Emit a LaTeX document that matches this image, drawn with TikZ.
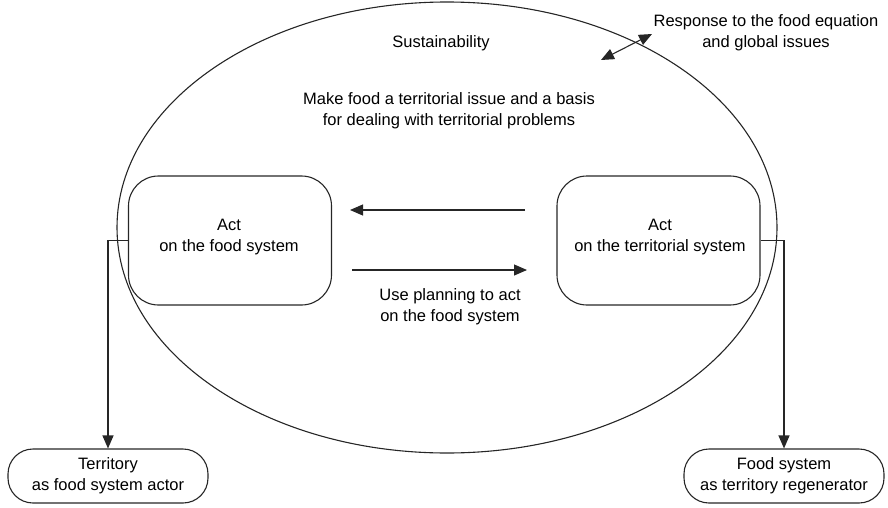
\documentclass[tikz,border=0pt]{standalone}
\usepackage{fontspec}
\setmainfont{Liberation Sans}
\usetikzlibrary{shapes.geometric,arrows.meta}
\begin{document}
\begin{tikzpicture}[x=1pt,y=-1pt,
  every node/.style={font=\fontsize{16.5}{21}\selectfont, align=center},
  ln/.style={line width=1.1pt, draw=black!85},
  arr/.style={ln, -{Triangle[length=13pt,width=11pt]}},
  darr/.style={ln, {Triangle[length=13pt,width=11pt]}-{Triangle[length=13pt,width=11pt]}},
  bigbox/.style={ln, rounded corners=30pt, minimum width=203pt, minimum height=129pt, inner sep=0pt},
  smallbox/.style={ln, rounded corners=25pt, minimum width=200pt, minimum height=54pt, inner sep=0pt},
  txt/.style={inner sep=0pt}
]
\useasboundingbox (0,0) rectangle (888,508);
\node[ln, ellipse, minimum width=660pt, minimum height=451pt, inner sep=0pt] (sus) at (447,227.5) {};
\node[txt] (sustxt) at (441,43) {Sustainability};
\node[txt] (make) at (449,111) {Make food a territorial issue and a basis\\for dealing with territorial problems};
\node[txt] (resp) at (766,33) {Response to the food equation\\and global issues};
\node[txt] (plan) at (450,307) {Use planning to act\\on the food system};

\node[bigbox] (lbox) at (230,240.5) {};
\node[txt] (ltxt) at (229,237) {Act\\on the food system};
\node[bigbox] (rbox) at (658.5,240.5) {};
\node[txt] (rtxt) at (660,237) {Act\\on the territorial system};

\node[smallbox] (terr) at (108,476) {Territory\\as food system actor};
\node[smallbox] (food) at (784,476) {Food system\\as territory regenerator};

\coordinate (a1) at (525,210);
\coordinate (a2) at (350,210);
\coordinate (b1) at (352,270);
\coordinate (b2) at (527,270);
\draw[arr] (a1) -- (a2);
\draw[arr] (b1) -- (b2);

\coordinate (d1) at (601,60);
\coordinate (d2) at (652,34);
\draw[darr] (d1) -- (d2);

\draw[arr] (lbox.west) -| (terr.north);
\draw[arr] (rbox.east) -| (food.north);
\end{tikzpicture}
\end{document}
